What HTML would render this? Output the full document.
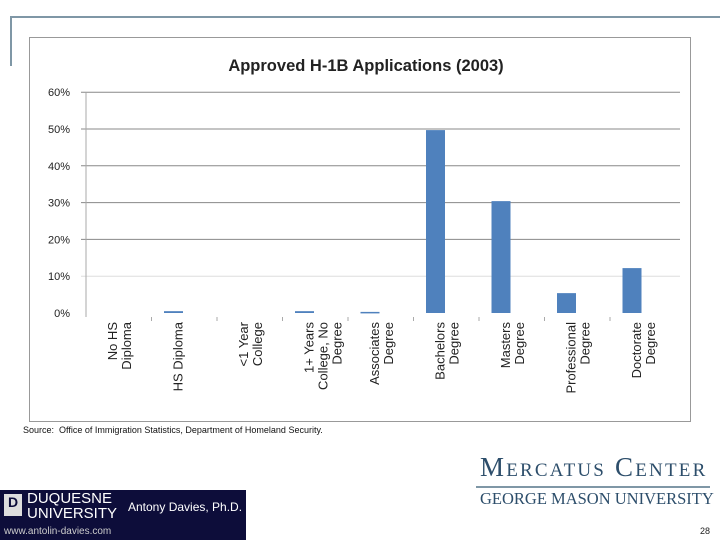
<!DOCTYPE html>
<html><head><meta charset="utf-8"><style>
body{margin:0;width:720px;height:540px;background:#fff;position:relative;overflow:hidden;font-family:"Liberation Sans",sans-serif}
div{position:absolute}
</style></head><body>
<div style="left:10px;top:16px;width:710px;height:2px;background:#7f97a6"></div>
<div style="left:10px;top:16px;width:2px;height:50px;background:#7f97a6"></div>
<div style="left:29px;top:37px;width:660px;height:383px;border:1px solid #999"></div>
<svg style="position:absolute;left:0;top:0" width="720" height="540">
<text x="366" y="71" text-anchor="middle" font-size="16.5" font-weight="bold" fill="#222" font-family="Liberation Sans">Approved H-1B Applications (2003)</text>
<g id="g"></g>
</svg>
<div style="left:23px;top:425px;font-size:9px;color:#111">Source:&nbsp; Office of Immigration Statistics, Department of Homeland Security.</div>
<div style="left:480px;top:452px;font-family:'Liberation Serif',serif;font-size:27px;color:#2d4e6b;font-variant:small-caps;letter-spacing:2.2px">Mercatus Center</div>
<div style="left:476px;top:486px;width:234px;height:2px;background:#7f97a6"></div>
<div style="left:480px;top:489px;font-family:'Liberation Serif',serif;font-size:16.5px;color:#2d4e6b">GEORGE MASON UNIVERSITY</div>
<div style="left:0;top:490px;width:246px;height:50px;background:#0d0d3a;color:#fff">
<div style="left:4px;top:4px;width:18px;height:22px;background:#ddd;color:#0d0d3a;font-size:14px;text-align:center;font-weight:bold">D</div>
<div style="left:27px;top:1px;font-size:15px;line-height:15px">DUQUESNE<br>UNIVERSITY</div>
<div style="left:128px;top:10px;font-size:12px">Antony Davies, Ph.D.</div>
<div style="left:4px;top:36px;font-size:10px;color:#ccc">www.antolin-davies.com</div>
</div>
<div style="left:700px;top:526px;font-size:9px;color:#222">28</div>
<script>
const categories=["No HS|Diploma","HS Diploma","<1 Year|College","1+ Years|College, No|Degree","Associates|Degree","Bachelors|Degree","Masters|Degree","Professional|Degree","Doctorate|Degree"];
const values=[0,0.5,0,0.5,0.3,49.7,30.4,5.4,12.2];
const ticks=[0,10,20,30,40,50,60];
const tickLabels=["0%","10%","20%","30%","40%","50%","60%"];
const NS="http://www.w3.org/2000/svg",g=document.getElementById('g');
const x0=86,cw=65.5,y0=313,ppu=36.8/10;
const y=v=>y0-v*ppu;
function mk(t,a){const e=document.createElementNS(NS,t);for(const k in a)e.setAttribute(k,a[k]);g.appendChild(e);return e;}
ticks.forEach((t,i)=>{
 if(t>0){const l=mk('line',{x1:x0-5,x2:680,y1:y(t),y2:y(t),stroke:t==10?'#ddd':'#888','stroke-width':1});
 
 }
 const tx=mk('text',{x:70,y:y(t)+4,'text-anchor':'end','font-size':11,fill:'#222'});tx.textContent=tickLabels[i];
 
 
});
const ax=mk('line',{x1:x0,x2:x0,y1:y(60),y2:y0+4,stroke:'#aaa'});


categories.forEach((c,i)=>{
 const cx=x0+i*cw;
 if(i>0){const tk=mk('line',{x1:cx,x2:cx,y1:y0+4,y2:y0+8,stroke:'#aaa'});
 
 }
 const h=values[i]*ppu;
 if(values[i]>0){const r=mk('rect',{x:cx+12.5,y:y0-h,width:19,height:Math.max(h,1.5),fill:'#4f81bd'});
 
 }
 const lines=c.split('|'),mid=cx+cw/2-6;
 const t=mk('text',{transform:`translate(${mid},322) rotate(-90)`,'text-anchor':'end','font-size':13,fill:'#222'});
 
 
 lines.forEach((s,j)=>{const sp=document.createElementNS(NS,'tspan');sp.setAttribute('x',0);sp.setAttribute('y',(j-(lines.length-1)/2)*14+4+ (lines.length-1)*7);sp.textContent=s;t.appendChild(sp);});
});
</script>
</body></html>
